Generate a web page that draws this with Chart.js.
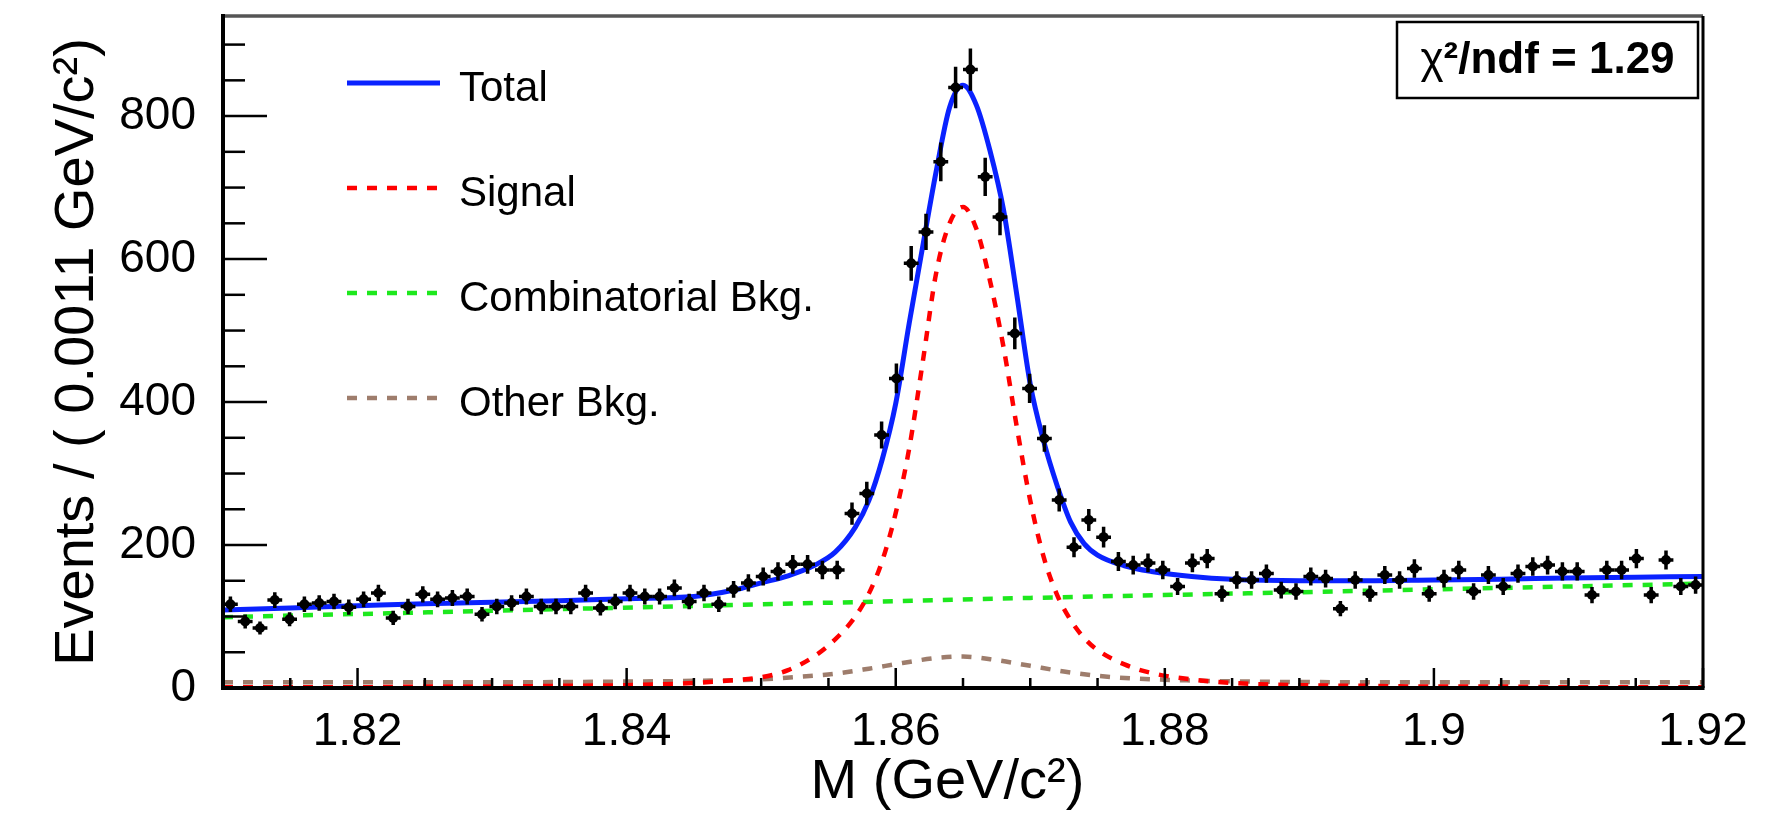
<!DOCTYPE html>
<html>
<head>
<meta charset="utf-8">
<title>M fit</title>
<script src="https://cdn.jsdelivr.net/npm/chart.js@4.4.1/dist/chart.umd.min.js"></script>
<style>
    html, body { margin: 0; padding: 0; background: #fff; }
    #wrap { width: 1773px; height: 824px; }
</style>
</head>
<body>
<div id="wrap"><canvas id="chart"></canvas></div>
<script>
// Histogram: 100 bins of 0.0011 GeV/c^2 between 1.81 and 1.92
const binLow = 1.81;
const binWidth = 0.0011;
const counts = [
    117, 93, 84, 123, 96, 117, 119, 121, 113, 124,
    133, 98, 114, 131, 124, 126, 128, 103, 114, 119,
    128, 114, 114, 114, 133, 112, 121, 133, 128, 128,
    140, 121, 133, 117, 138, 147, 156, 163, 173, 173,
    165, 165, 244, 272, 354, 433, 594, 638, 736, 840,
    865, 715, 659, 496, 419, 349, 263, 197, 235, 211,
    177, 172, 175, 165, 142, 175, 181, 132, 151, 151,
    160, 137, 135, 156, 153, 111, 151, 132, 158, 151,
    167, 132, 153, 165, 135, 158, 142, 160, 170, 172,
    163, 163, 130, 165, 165, 181, 130, 179, 142, 144,
];

// Fit curves
const curveX = [
    1.810, 1.815, 1.820, 1.825, 1.830, 1.835, 1.840, 1.845, 1.848, 1.850,
    1.852, 1.854, 1.8555, 1.857, 1.858, 1.859, 1.860, 1.861, 1.862, 1.863,
    1.864, 1.865, 1.866, 1.867, 1.868, 1.869, 1.870, 1.871, 1.872, 1.873,
    1.874, 1.875, 1.877, 1.879, 1.882, 1.885, 1.890, 1.895, 1.900, 1.905,
    1.910, 1.915, 1.920,
];
const totalY = [
    109, 112, 115, 118, 120, 122, 125, 128, 137, 147,
    157, 172, 190, 225, 262, 320, 398, 510, 617, 722,
    812, 843, 815, 752, 670, 550, 425, 345, 283, 232,
    202, 186, 171, 163, 156, 152, 150, 150, 151, 152,
    154, 155, 156,
];
const signalY = [
    1, 1, 1, 2, 2, 3, 4, 7, 11, 15,
    25, 45, 68, 100, 132, 178, 245, 335, 455, 580,
    650, 673, 642, 570, 478, 365, 262, 183, 130, 95,
    70, 53, 33, 21, 12, 7, 4, 3, 2, 2,
    1, 1, 1,
];
const combX = [1.81, 1.83, 1.85, 1.87, 1.89, 1.91, 1.92];
const combY = [99, 108, 117, 126, 134, 142, 146];
const otherX = [
    1.810, 1.830, 1.840, 1.845, 1.850, 1.853, 1.8555, 1.858, 1.8605, 1.863,
    1.865, 1.8675, 1.870, 1.8725, 1.875, 1.878, 1.882, 1.886, 1.900, 1.920,
];
const otherY = [8, 8, 9, 10, 12, 16, 20, 27, 35, 42, 44, 39, 31, 23, 17, 13, 10.5, 9, 8, 8];

const seriesNames = ["Total", "Signal", "Combinatorial Bkg.", "Other Bkg."];
const chi2Label = "1.29";

const xTicks = [1.82, 1.84, 1.86, 1.88, 1.9, 1.92];
const xTickLabels = ["1.82", "1.84", "1.86", "1.88", "1.9", "1.92"];
const yTicks = [0, 200, 400, 600, 800];
const yTickLabels = ["0", "200", "400", "600", "800"];

const FONT = "'Liberation Sans', Arial, Helvetica, sans-serif";
Chart.defaults.font.family = FONT;
Chart.defaults.color = "#000";

const toPoints = (xs, ys) => xs.map((x, i) => ({ x: x, y: ys[i] }));

const curve = (label, xs, ys, color, dash, order) => ({
    label: label,
    data: toPoints(xs, ys),
    showLine: true,
    borderColor: color,
    borderWidth: dash ? 4.5 : 5,
    borderDash: dash,
    borderCapStyle: "butt",
    pointRadius: 0,
    cubicInterpolationMode: "monotone",
    order: order,
});

const histPoints = counts.map((c, i) => ({ x: binLow + binWidth * (i + 0.5), y: c }));

// error bars (sqrt N) and bin-width bars for the data points
const errorBars = {
    id: "errorBars",
    afterDatasetDraw(chart, args) {
        if (args.index !== 0) return;
        const { ctx, scales: { x, y } } = chart;
        ctx.save();
        ctx.strokeStyle = "#000";
        ctx.lineWidth = 3.5;
        histPoints.forEach((p) => {
            const err = Math.sqrt(p.y);
            const px = x.getPixelForValue(p.x);
            const py = y.getPixelForValue(p.y);
            ctx.beginPath();
            ctx.moveTo(px, y.getPixelForValue(p.y + err));
            ctx.lineTo(px, y.getPixelForValue(p.y - err));
            ctx.moveTo(x.getPixelForValue(p.x - binWidth / 2), py);
            ctx.lineTo(x.getPixelForValue(p.x + binWidth / 2), py);
            ctx.stroke();
        });
        ctx.restore();
    },
};

// ROOT style frame, inward ticks, legend and chi2 box
const rootFrame = {
    id: "rootFrame",
    afterDraw(chart) {
        const { ctx, chartArea: area, scales: { x, y } } = chart;
        ctx.save();

        ctx.strokeStyle = "#000";
        ctx.lineWidth = 2.5;
        const yStep = (yTicks[1] - yTicks[0]) / 4;
        for (let k = 0; yTicks[0] + k * yStep <= y.max; k++) {
            const py = y.getPixelForValue(yTicks[0] + k * yStep);
            const len = k % 4 === 0 ? 44 : 22;
            ctx.beginPath();
            ctx.moveTo(area.left, py);
            ctx.lineTo(area.left + len, py);
            ctx.stroke();
        }
        const xStep = (xTicks[1] - xTicks[0]) / 4;
        const kStart = Math.ceil((x.min - xTicks[0]) / xStep - 1e-6);
        const kEnd = Math.floor((x.max - xTicks[0]) / xStep + 1e-6);
        for (let k = kStart; k <= kEnd; k++) {
            const px = x.getPixelForValue(xTicks[0] + k * xStep);
            const len = ((k % 4) + 4) % 4 === 0 ? 20 : 10;
            ctx.beginPath();
            ctx.moveTo(px, area.bottom);
            ctx.lineTo(px, area.bottom - len);
            ctx.stroke();
        }

        // frame
        ctx.lineWidth = 3.5;
        ctx.strokeStyle = "#555";
        ctx.beginPath();
        ctx.moveTo(area.left, area.top);
        ctx.lineTo(area.right, area.top);
        ctx.stroke();
        ctx.strokeStyle = "#000";
        ctx.lineWidth = 3;
        ctx.beginPath();
        ctx.moveTo(area.right, area.top);
        ctx.lineTo(area.right, area.bottom);
        ctx.stroke();
        ctx.lineWidth = 4;
        ctx.beginPath();
        ctx.moveTo(area.left, area.top - 2);
        ctx.lineTo(area.left, area.bottom);
        ctx.lineTo(area.right + 1.5, area.bottom);
        ctx.stroke();

        // legend
        ctx.font = "42px " + FONT;
        ctx.textBaseline = "alphabetic";
        ctx.textAlign = "left";
        chart.data.datasets.slice(1).forEach((ds, k) => {
            const rowY = area.top + 67 + k * 105;
            ctx.strokeStyle = ds.borderColor;
            ctx.lineWidth = ds.borderWidth;
            ctx.lineCap = "butt";
            ctx.setLineDash(ds.borderDash || []);
            ctx.beginPath();
            ctx.moveTo(area.left + 124, rowY);
            ctx.lineTo(area.left + 217, rowY);
            ctx.stroke();
            ctx.setLineDash([]);
            ctx.fillStyle = "#000";
            ctx.fillText(ds.label, area.left + 236, rowY + 18);
        });

        // chi2 box
        const bx0 = area.right - 306;
        const bx1 = area.right - 5;
        const by0 = area.top + 6;
        const by1 = area.top + 82;
        ctx.fillStyle = "#fff";
        ctx.fillRect(bx0, by0, bx1 - bx0, by1 - by0);
        ctx.strokeStyle = "#000";
        ctx.lineWidth = 2.5;
        ctx.strokeRect(bx0, by0, bx1 - bx0, by1 - by0);
        const chiPart = "\u03c7";
        const restPart = "\u00b2/ndf = " + chi2Label;
        ctx.font = "44px " + FONT;
        const w1 = ctx.measureText(chiPart).width;
        ctx.font = "bold 44px " + FONT;
        const w2 = ctx.measureText(restPart).width;
        const tx = (bx0 + bx1) / 2 - (w1 + w2) / 2;
        const ty = area.top + 57;
        ctx.fillStyle = "#000";
        ctx.font = "44px " + FONT;
        ctx.fillText(chiPart, tx, ty);
        ctx.font = "bold 44px " + FONT;
        ctx.fillText(restPart, tx + w1, ty);

        ctx.restore();
    },
};

const ctx = document.getElementById("chart").getContext("2d");

new Chart(ctx, {
    type: "scatter",
    data: {
        datasets: [
            {
                label: "Data",
                data: histPoints,
                pointRadius: 5,
                pointBackgroundColor: "#000",
                pointBorderColor: "#000",
                pointBorderWidth: 0,
                order: 0,
            },
            curve(seriesNames[0], curveX, totalY, "#0a22ff", undefined, 1),
            curve(seriesNames[1], curveX, signalY, "#ff0000", [10, 10], 2),
            curve(seriesNames[2], combX, combY, "#1ee81e", [10, 10], 3),
            curve(seriesNames[3], otherX, otherY, "#9e7d6c", [10, 10], 4),
        ],
    },
    options: {
        responsive: true,
        maintainAspectRatio: false,
        animation: false,
        layout: {
            padding: { left: 0, right: 70, top: 16, bottom: 0 },
        },
        plugins: {
            legend: { display: false },
            tooltip: { enabled: false },
        },
        scales: {
            x: {
                type: "linear",
                min: 1.81,
                max: 1.92,
                afterBuildTicks: (scale) => {
                    scale.ticks = xTicks.map((v) => ({ value: v }));
                },
                afterFit: (scale) => {
                    scale.height = 136;
                    scale.paddingLeft = 0;
                    scale.paddingRight = 0;
                },
                ticks: {
                    autoSkip: false,
                    maxRotation: 0,
                    padding: 9,
                    font: { size: 46 },
                    callback: (value, index) => xTickLabels[index],
                },
                grid: { display: false },
                border: { display: false },
                title: {
                    display: true,
                    text: "M (GeV/c\u00b2)  ",
                    font: { size: 56 },
                    padding: { top: 0, bottom: 8 },
                },
            },
            y: {
                type: "linear",
                min: 0,
                max: 940,
                afterBuildTicks: (scale) => {
                    scale.ticks = yTicks.map((v) => ({ value: v }));
                },
                afterFit: (scale) => {
                    scale.width = 223;
                    scale.paddingTop = 0;
                    scale.paddingBottom = 0;
                },
                ticks: {
                    padding: 19,
                    font: { size: 46 },
                    callback: (value, index) => yTickLabels[index],
                },
                grid: { display: false },
                border: { display: false },
                title: {
                    display: true,
                    text: "Events / ( 0.0011 GeV/c\u00b2)",
                    font: { size: 56 },
                    padding: { top: 44, bottom: 0 },
                },
            },
        },
    },
    plugins: [errorBars, rootFrame],
});
</script>
</body>
</html>
